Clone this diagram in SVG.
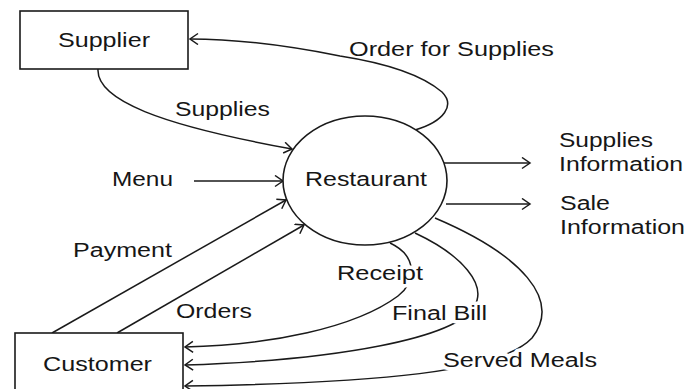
<svg xmlns="http://www.w3.org/2000/svg" width="700" height="389" viewBox="0 0 700 389">
<style>
.box{fill:#fff;stroke:#1a1a1a;stroke-width:1.6}
.ln{fill:none;stroke:#1a1a1a;stroke-width:1.5}
.t{font-family:"Liberation Sans",Arial,sans-serif;font-size:20px;fill:#161616}
.lbl{paint-order:stroke;stroke:#fff;stroke-width:7;stroke-linejoin:round}
</style>
<defs>
<marker id="arr" markerUnits="userSpaceOnUse" markerWidth="12" markerHeight="14" refX="10" refY="6" orient="auto">
<path d="M2,0.5 L10,6 L2,11.5" fill="none" stroke="#1a1a1a" stroke-width="1.5"/>
</marker>
</defs>
<rect width="700" height="389" fill="#fff"/>
<g id="connectors">
<path class="ln" d="M415,130 C445,121 455,105 442,92 C422,75 385,63 340,56 C290,46 235,39 190,39" marker-end="url(#arr)"/>
<path class="ln" d="M98,69 C96,100 160,125 292,149" marker-end="url(#arr)"/>
<path class="ln" d="M194,181 L283,181" marker-end="url(#arr)"/>
<path class="ln" d="M52,333 L286,200" marker-end="url(#arr)"/>
<path class="ln" d="M117,333 L304,225" marker-end="url(#arr)"/>
<path class="ln" d="M443,163 L530,163" marker-end="url(#arr)"/>
<path class="ln" d="M446,204 L530,204" marker-end="url(#arr)"/>
<path class="ln" d="M390,243 C418,256 416,282 398,296 C355,328 270,345 185,347" marker-end="url(#arr)"/>
<path class="ln" d="M415,233 C462,255 488,285 474,307 C455,338 340,360 185,365" marker-end="url(#arr)"/>
<path class="ln" d="M435,218 C522,255 562,300 532,338 C500,372 380,383 185,386" marker-end="url(#arr)"/>
<text class="t" x="349" y="56" textLength="205" lengthAdjust="spacingAndGlyphs">Order for Supplies</text>
<text class="t" x="175" y="116" textLength="95" lengthAdjust="spacingAndGlyphs">Supplies</text>
<text class="t" x="112" y="186" textLength="61" lengthAdjust="spacingAndGlyphs">Menu</text>
<text class="t" x="73" y="257" textLength="99" lengthAdjust="spacingAndGlyphs">Payment</text>
<text class="t" x="176" y="318" textLength="76" lengthAdjust="spacingAndGlyphs">Orders</text>
<text class="t lbl" x="337" y="280" textLength="86" lengthAdjust="spacingAndGlyphs">Receipt</text>
<text class="t lbl" x="392" y="320" textLength="95" lengthAdjust="spacingAndGlyphs">Final Bill</text>
<text class="t lbl" x="443" y="367" textLength="154" lengthAdjust="spacingAndGlyphs">Served Meals</text>
</g>
<g id="supplier">
<rect class="box" x="20" y="11" width="168" height="58"/>
<text class="t" x="58" y="47" textLength="92" lengthAdjust="spacingAndGlyphs">Supplier</text>
</g>
<g id="restaurant">
<ellipse class="box" cx="365" cy="180.5" rx="82" ry="64.5"/>
<text class="t" x="305" y="186" textLength="122" lengthAdjust="spacingAndGlyphs">Restaurant</text>
</g>
<g id="customer">
<rect class="box" x="15" y="333" width="168" height="70"/>
<text class="t" x="43" y="371" textLength="109" lengthAdjust="spacingAndGlyphs">Customer</text>
</g>
<g id="supplies-information">
<text class="t" x="559" y="147" textLength="94" lengthAdjust="spacingAndGlyphs">Supplies</text>
<text class="t" x="559" y="171" textLength="124" lengthAdjust="spacingAndGlyphs">Information</text>
</g>
<g id="sale-information">
<text class="t" x="560" y="210" textLength="50" lengthAdjust="spacingAndGlyphs">Sale</text>
<text class="t" x="560" y="234" textLength="125" lengthAdjust="spacingAndGlyphs">Information</text>
</g>
</svg>
